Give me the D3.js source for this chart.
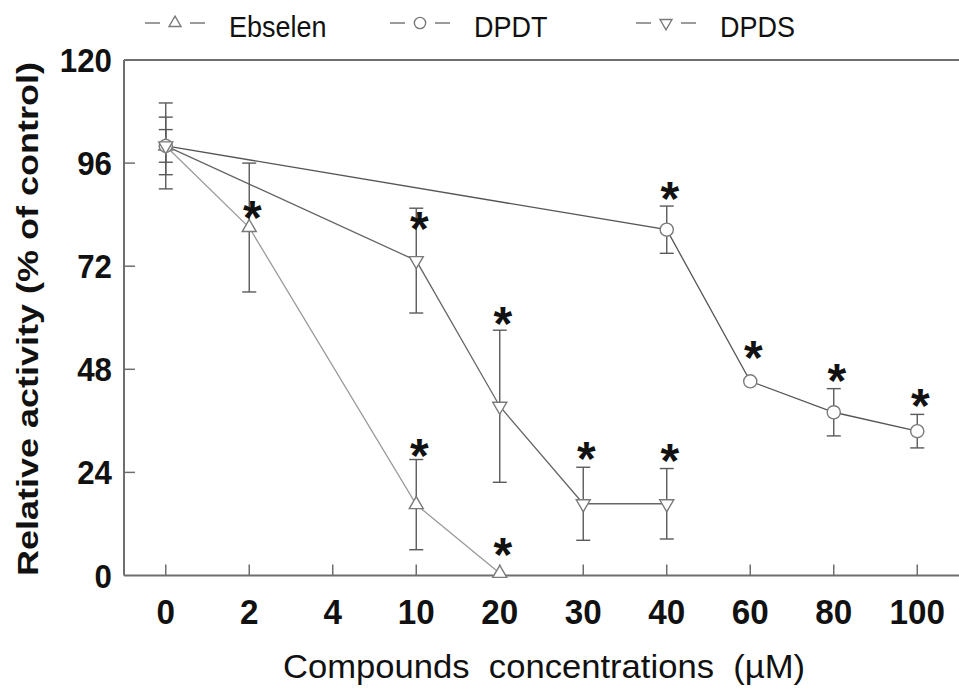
<!DOCTYPE html>
<html>
<head>
<meta charset="utf-8">
<script src="https://cdn.jsdelivr.net/npm/d3@7/dist/d3.min.js"></script>
<style>
  html, body { margin: 0; padding: 0; background: #fff; }
  svg { display: block; font-family: Arial, "Liberation Sans", Helvetica, sans-serif; }
</style>
</head>
<body>
<svg id="chart" width="959" height="691"></svg>
<script>
// Concentration levels (µM), shown as evenly spaced categories
const categories = ["0", "2", "4", "10", "20", "30", "40", "60", "80", "100"];
const yTicks = [0, 24, 48, 72, 96, 120];

// Ebselen
const ebselenConc = ["0", "2", "10", "20"];
const ebselenMean = [100, 81, 16.5, 0.5];
const ebselenSD   = [10, 15, 10.5, 0];

// DPDT
const dpdtConc = ["0", "40", "60", "80", "100"];
const dpdtMean = [100, 80.5, 45.2, 38, 33.6];
const dpdtSD   = [3.8, 5.5, 0, 5.5, 3.9];

// DPDS
const dpdsConc = ["0", "10", "20", "30", "40"];
const dpdsMean = [100, 73.3, 39.4, 16.7, 16.7];
const dpdsSD   = [6.7, 12.2, 17.7, 8.5, 8.2];

// Significance asterisks: concentration and the activity level they sit at
const sigConc  = ["2", "10", "10", "20", "20", "30", "40", "40", "60", "80", "100"];
const sigLevel = [85.7, 83.1, 30.3, 61.0, 7.3, 29.7, 29.2, 90.1, 53.1, 47.8, 42.0];

const seriesNames = ["Ebselen", "DPDT", "DPDS"];

const svg = d3.select("#chart");
const plotLeft = 124, plotRight = 959, plotTop = 60, plotBottom = 575.5;

const x = d3.scalePoint().domain(categories).range([plotLeft, plotRight]).padding(0.5);
const y = d3.scaleLinear().domain([0, 120]).range([plotBottom, plotTop]);

const axisColor = "#6e6e6e";

// Triangle paths centred on the marker's centroid
function triUp(w, h) {
  return `M0,${-2 * h / 3}L${w / 2},${h / 3}L${-w / 2},${h / 3}Z`;
}
function triDown(w, h) {
  return `M0,${2 * h / 3}L${w / 2},${-h / 3}L${-w / 2},${-h / 3}Z`;
}

const series = [
  { name: "Ebselen", conc: ebselenConc, mean: ebselenMean, sd: ebselenSD, marker: "up",     line: "#9a9a9a" },
  { name: "DPDT",    conc: dpdtConc,    mean: dpdtMean,    sd: dpdtSD,    marker: "circle", line: "#555555" },
  { name: "DPDS",    conc: dpdsConc,    mean: dpdsMean,    sd: dpdsSD,    marker: "down",   line: "#666666" }
];

function drawMarker(g, type, size) {
  const stroke = "#7a7a7a";
  if (type === "circle") {
    g.append("circle").attr("r", size * 0.47).attr("fill", "#fff").attr("stroke", stroke).attr("stroke-width", 1.4);
  } else {
    g.append("path")
      .attr("d", type === "up" ? triUp(size, size * 0.86) : triDown(size, size * 0.86))
      .attr("fill", "#fff").attr("stroke", stroke).attr("stroke-width", 1.4);
  }
}

// Frame and axes
const axes = svg.append("g");
axes.append("line").attr("x1", plotLeft).attr("x2", plotRight).attr("y1", plotTop).attr("y2", plotTop)
  .attr("stroke", axisColor).attr("stroke-width", 2);
axes.append("line").attr("x1", plotLeft).attr("x2", plotLeft).attr("y1", plotTop).attr("y2", plotBottom)
  .attr("stroke", axisColor).attr("stroke-width", 2);
axes.append("line").attr("x1", plotLeft).attr("x2", plotRight).attr("y1", plotBottom).attr("y2", plotBottom)
  .attr("stroke", axisColor).attr("stroke-width", 2);

// Inward tick marks on the y axis
axes.selectAll(".ytick").data(yTicks.filter(d => d > 0 && d < 120)).enter().append("line")
  .attr("x1", plotLeft).attr("x2", plotLeft + 11)
  .attr("y1", d => y(d)).attr("y2", d => y(d))
  .attr("stroke", axisColor).attr("stroke-width", 1.5);

// Inward tick marks on the x axis
axes.selectAll(".xtick").data(categories).enter().append("line")
  .attr("x1", d => x(d)).attr("x2", d => x(d))
  .attr("y1", plotBottom).attr("y2", plotBottom - 11)
  .attr("stroke", axisColor).attr("stroke-width", 1.5);

// Tick labels
svg.append("g").selectAll("text").data(yTicks).enter().append("text")
  .attr("transform", d => `translate(112,${y(d) + 12}) scale(0.92,1)`)
  .attr("text-anchor", "end")
  .attr("font-size", 34).attr("font-weight", "bold").attr("fill", "#111")
  .text(d => d);

svg.append("g").selectAll("text").data(categories).enter().append("text")
  .attr("transform", d => `translate(${x(d)},624) scale(0.95,1)`)
  .attr("text-anchor", "middle")
  .attr("font-size", 35).attr("font-weight", "bold").attr("fill", "#111")
  .text(d => d);

// Axis titles
svg.append("text")
  .attr("transform", "translate(38,319) rotate(-90)")
  .attr("text-anchor", "middle")
  .attr("font-size", 30).attr("font-weight", "bold").attr("fill", "#111")
  .attr("textLength", 514).attr("lengthAdjust", "spacingAndGlyphs")
  .text("Relative activity (% of control)");

svg.append("text")
  .attr("x", 544).attr("y", 678)
  .attr("text-anchor", "middle")
  .attr("font-size", 34).attr("fill", "#111")
  .attr("textLength", 522).attr("lengthAdjust", "spacingAndGlyphs")
  .style("white-space", "pre")
  .text("Compounds  concentrations  (µM)");

// Connecting lines
const plot = svg.append("g");
series.forEach(s => {
  const pts = s.conc.map((c, i) => [x(c), y(s.mean[i])]);
  plot.append("path")
    .attr("d", d3.line()(pts))
    .attr("fill", "none").attr("stroke", s.line).attr("stroke-width", 1.3);
});

// Error bars
series.forEach(s => {
  s.conc.forEach((c, i) => {
    if (!s.sd[i]) return;
    const cx = x(c), y1 = y(s.mean[i] + s.sd[i]), y2 = y(s.mean[i] - s.sd[i]);
    const g = plot.append("g").attr("stroke", "#5a5a5a").attr("stroke-width", 1.4);
    g.append("line").attr("x1", cx).attr("x2", cx).attr("y1", y1).attr("y2", y2);
    g.append("line").attr("x1", cx - 7).attr("x2", cx + 7).attr("y1", y1).attr("y2", y1);
    g.append("line").attr("x1", cx - 7).attr("x2", cx + 7).attr("y1", y2).attr("y2", y2);
  });
});

// Markers
series.forEach(s => {
  s.conc.forEach((c, i) => {
    const g = plot.append("g").attr("transform", `translate(${x(c)},${y(s.mean[i])})`);
    drawMarker(g, s.marker, 14);
  });
});

// Asterisks
const starSize = 48;
svg.append("g").selectAll("text").data(sigConc).enter().append("text")
  .attr("x", d => x(d) + 3)
  .attr("y", (d, i) => y(sigLevel[i]) + starSize * 0.555)
  .attr("text-anchor", "middle")
  .attr("font-size", starSize).attr("font-weight", "bold").attr("fill", "#111")
  .text("*");

// Legend
const legend = svg.append("g");
const legendX = [145, 390, 636];
series.forEach((s, i) => {
  const x0 = legendX[i], ly = 23;
  legend.append("line").attr("x1", x0).attr("x2", x0 + 15).attr("y1", ly).attr("y2", ly)
    .attr("stroke", "#7a7a7a").attr("stroke-width", 1.5);
  legend.append("line").attr("x1", x0 + 45).attr("x2", x0 + 60).attr("y1", ly).attr("y2", ly)
    .attr("stroke", "#7a7a7a").attr("stroke-width", 1.5);
  const g = legend.append("g").attr("transform", `translate(${x0 + 30},${ly})`);
  drawMarker(g, s.marker, 12);
  legend.append("text")
    .attr("transform", `translate(${x0 + 84},37) scale(0.93,1)`)
    .attr("font-size", 29).attr("fill", "#111")
    .text(seriesNames[i]);
});
</script>
</body>
</html>
